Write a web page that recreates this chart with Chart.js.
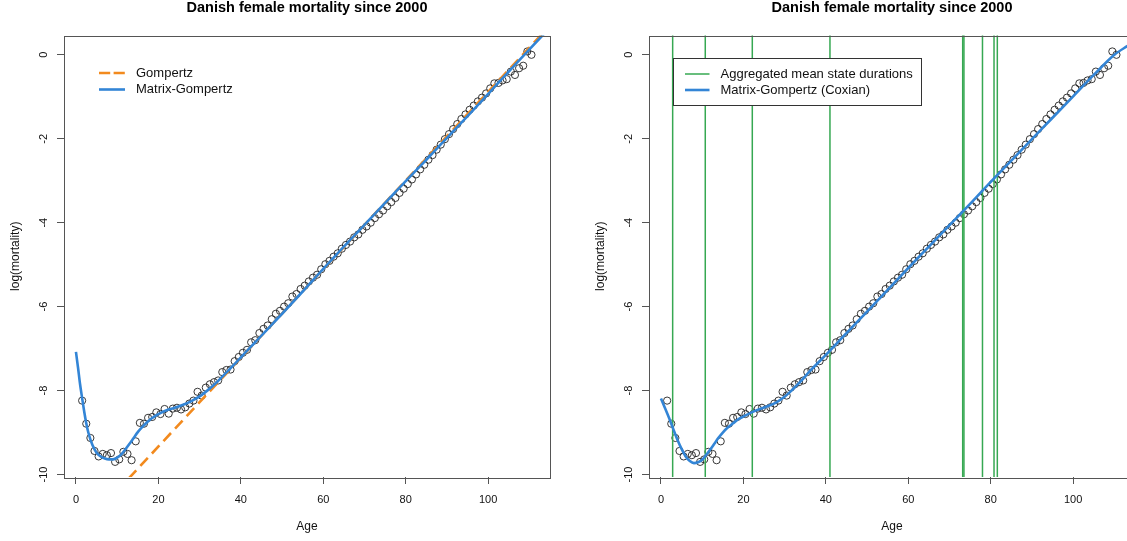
<!DOCTYPE html>
<html>
<head>
<meta charset="utf-8">
<script src="https://cdn.jsdelivr.net/npm/chart.js@4/dist/chart.umd.min.js"></script>
<style>
    html, body { margin: 0; padding: 0; background: #fff; overflow: hidden; width: 1127px; height: 541px; }
    .panel { position: absolute; top: 0; height: 541px; }
    #leftPanel { left: 0; width: 563px; }
    #rightPanel { left: 563px; width: 585px; }
</style>
</head>
<body>
<div class="panel" id="leftPanel"><canvas id="gompertzChart"></canvas></div>
<div class="panel" id="rightPanel"><canvas id="coxianChart"></canvas></div>
<script>
// Observed log-mortality, ages plotted at mid-year
const obsAges = [
    1.5, 2.5, 3.5, 4.5, 5.5, 6.5, 7.5, 8.5, 9.5, 10.5,
    11.5, 12.5, 13.5, 14.5, 15.5, 16.5, 17.5, 18.5, 19.5, 20.5,
    21.5, 22.5, 23.5, 24.5, 25.5, 26.5, 27.5, 28.5, 29.5, 30.5,
    31.5, 32.5, 33.5, 34.5, 35.5, 36.5, 37.5, 38.5, 39.5, 40.5,
    41.5, 42.5, 43.5, 44.5, 45.5, 46.5, 47.5, 48.5, 49.5, 50.5,
    51.5, 52.5, 53.5, 54.5, 55.5, 56.5, 57.5, 58.5, 59.5, 60.5,
    61.5, 62.5, 63.5, 64.5, 65.5, 66.5, 67.5, 68.5, 69.5, 70.5,
    71.5, 72.5, 73.5, 74.5, 75.5, 76.5, 77.5, 78.5, 79.5, 80.5,
    81.5, 82.5, 83.5, 84.5, 85.5, 86.5, 87.5, 88.5, 89.5, 90.5,
    91.5, 92.5, 93.5, 94.5, 95.5, 96.5, 97.5, 98.5, 99.5, 100.5,
    101.5, 102.5, 103.5, 104.5, 105.5, 106.5, 107.5, 108.5, 109.5, 110.5
];
const obsLogMort = [
    -8.24, -8.79, -9.13, -9.44, -9.57, -9.51, -9.54, -9.49, -9.70, -9.64,
    -9.46, -9.51, -9.66, -9.21, -8.77, -8.79, -8.65, -8.63, -8.52, -8.56,
    -8.44, -8.55, -8.43, -8.41, -8.45, -8.40, -8.31, -8.24, -8.03, -8.12,
    -7.93, -7.85, -7.80, -7.76, -7.56, -7.51, -7.50, -7.30, -7.20, -7.10,
    -7.03, -6.85, -6.80, -6.63, -6.53, -6.45, -6.30, -6.17, -6.10, -6.00,
    -5.92, -5.76, -5.70, -5.58, -5.50, -5.40, -5.31, -5.24, -5.11, -4.99,
    -4.91, -4.81, -4.73, -4.62, -4.53, -4.45, -4.35, -4.28, -4.17, -4.09,
    -4.00, -3.89, -3.80, -3.71, -3.61, -3.51, -3.41, -3.29, -3.19, -3.08,
    -2.97, -2.85, -2.73, -2.62, -2.50, -2.39, -2.26, -2.14, -2.01, -1.89,
    -1.77, -1.65, -1.53, -1.42, -1.31, -1.21, -1.11, -1.02, -0.92, -0.80,
    -0.68, -0.67, -0.61, -0.58, -0.40, -0.48, -0.32, -0.26, 0.08, 0.00
];

// Fitted Gompertz (straight in log scale)
const gompAges = [10, 115];
const gompLogMort = [-10.39, 0.70];

// Fitted Matrix-Gompertz (left panel)
const mgAges = [
    0, 0.5, 1, 1.5, 2, 2.5, 3, 4, 5, 6, 7, 8, 9, 10, 11, 12, 13, 14, 15, 16,
    17, 18, 19, 20, 22, 24, 26, 28, 30, 32, 34, 36, 38, 40, 45, 50, 55, 60,
    65, 70, 75, 80, 85, 90, 95, 100, 105, 110, 115
];
const mgLogMort = [
    -7.08, -7.45, -7.85, -8.18, -8.50, -8.78, -9.00, -9.30, -9.48, -9.57,
    -9.62, -9.64, -9.64, -9.60, -9.52, -9.40, -9.27, -9.13, -8.99, -8.88,
    -8.78, -8.69, -8.62, -8.56, -8.47, -8.41, -8.34, -8.25, -8.14, -7.99,
    -7.82, -7.62, -7.42, -7.21, -6.69, -6.17, -5.64, -5.10, -4.57, -4.05,
    -3.53, -3.01, -2.50, -1.98, -1.46, -0.93, -0.40, 0.13, 0.65
];

// Fitted Matrix-Gompertz, Coxian structure (right panel)
const coxAges = [
    0, 1, 2, 3, 4, 5, 6, 7, 8, 9, 10, 11, 12, 13, 14, 15, 16, 17, 18, 19,
    20, 22, 24, 26, 28, 30, 32, 34, 36, 38, 40, 45, 50, 55, 60, 65, 70, 75,
    80, 85, 90, 95, 100, 105, 110, 113, 115
];
const coxLogMort = [
    -8.19, -8.42, -8.66, -8.92, -9.17, -9.39, -9.57, -9.68, -9.73, -9.71,
    -9.65, -9.53, -9.40, -9.26, -9.12, -9.00, -8.90, -8.82, -8.74, -8.67,
    -8.62, -8.52, -8.44, -8.37, -8.28, -8.15, -7.97, -7.77, -7.55, -7.35,
    -7.15, -6.63, -6.12, -5.60, -5.08, -4.57, -4.06, -3.55, -3.03, -2.52,
    -2.01, -1.50, -0.99, -0.48, 0.00, 0.20, 0.32
];

// Aggregated mean state durations (cumulative ages)
const stateAges = [2.84, 10.75, 22.16, 41.0, 73.2, 73.5, 78.0, 80.8, 81.6];

const xTicks = [0, 20, 40, 60, 80, 100];
const yTicks = [-10, -8, -6, -4, -2, 0];
const X_MIN = -2.9, X_MAX = 115;
const Y_MIN = -10.06, Y_MAX = 0.46;

const BLUE = '#3385d6';
const ORANGE = '#f28a1e';
const GREEN = '#36a852';
const AXIS_GREY = '#555';

Chart.defaults.font.family = '"Liberation Sans", Arial, Helvetica, sans-serif';
Chart.defaults.color = '#111';

const toPoints = (xs, ys) => xs.map((x, i) => ({ x: x, y: ys[i] }));

// R-style box around the plotting region
const boxPlugin = {
    id: 'rBox',
    afterDraw(chart) {
        const { ctx, chartArea: a } = chart;
        ctx.save();
        ctx.strokeStyle = AXIS_GREY;
        ctx.lineWidth = 1;
        ctx.strokeRect(Math.round(a.left) + 0.5, Math.round(a.top) + 0.5,
            Math.round(a.right - a.left), Math.round(a.bottom - a.top));
        ctx.restore();
    }
};

// Legend drawn inside the plot, like R's legend()
const legendPlugin = {
    id: 'rLegend',
    afterDraw(chart, args, opts) {
        if (!opts || !opts.items) return;
        const ctx = chart.ctx;
        ctx.save();
        if (opts.box) {
            ctx.fillStyle = '#fff';
            ctx.fillRect(opts.box.x, opts.box.y, opts.box.w, opts.box.h);
            ctx.strokeStyle = '#333';
            ctx.lineWidth = 1;
            ctx.strokeRect(opts.box.x + 0.5, opts.box.y + 0.5, opts.box.w, opts.box.h);
        }
        ctx.font = '13px ' + Chart.defaults.font.family;
        ctx.textBaseline = 'middle';
        opts.items.forEach((item, i) => {
            const y = opts.y + i * opts.rowHeight;
            ctx.beginPath();
            ctx.setLineDash(item.dash || []);
            ctx.strokeStyle = item.color;
            ctx.lineWidth = item.width;
            ctx.moveTo(opts.x, y);
            ctx.lineTo(opts.x + opts.lineLen, y);
            ctx.stroke();
            ctx.setLineDash([]);
            ctx.fillStyle = '#111';
            ctx.fillText(item.text, opts.x + opts.textGap, y);
        });
        ctx.restore();
    }
};

function axisOptions() {
    return {
        x: {
            type: 'linear',
            min: X_MIN,
            max: X_MAX,
            afterBuildTicks: scale => { scale.ticks = xTicks.map(v => ({ value: v })); },
            ticks: { maxRotation: 0, padding: 9, font: { size: 11 } },
            grid: { drawOnChartArea: false, tickLength: 7, color: AXIS_GREY },
            border: { display: false },
            title: { display: true, text: 'Age', font: { size: 12 }, padding: { top: 0, bottom: 7 } },
            afterFit: scale => { scale.height = 64; }
        },
        y: {
            type: 'linear',
            min: Y_MIN,
            max: Y_MAX,
            afterBuildTicks: scale => { scale.ticks = yTicks.map(v => ({ value: v })); },
            ticks: { minRotation: 90, maxRotation: 90, crossAlign: 'center', padding: 5, font: { size: 11 } },
            grid: { drawOnChartArea: false, tickLength: 7, color: AXIS_GREY },
            border: { display: false },
            title: { display: true, text: 'log(mortality)', font: { size: 12 }, padding: { top: 8, bottom: 0 } },
            afterFit: scale => { scale.width = 64; }
        }
    };
}

function baseOptions(padLeft, legend) {
    return {
        responsive: true,
        maintainAspectRatio: false,
        animation: false,
        layout: { padding: { left: padLeft, right: 13, top: 0, bottom: 0 } },
        plugins: {
            legend: { display: false },
            tooltip: { enabled: false },
            title: {
                display: true,
                text: 'Danish female mortality since 2000',
                fullSize: false,
                color: '#000',
                font: { size: 14.5, weight: 'bold', lineHeight: 1 },
                padding: { top: 1, bottom: 20 }
            },
            rLegend: legend
        },
        scales: axisOptions()
    };
}

function observedDataset() {
    return {
        type: 'scatter',
        data: toPoints(obsAges, obsLogMort),
        pointStyle: 'circle',
        pointRadius: 3.6,
        pointBorderWidth: 0.9,
        pointBorderColor: '#222',
        pointBackgroundColor: 'rgba(0,0,0,0)',
        order: 3
    };
}

function curveDataset(xs, ys, color, extra) {
    return Object.assign({
        type: 'line',
        data: toPoints(xs, ys),
        borderColor: color,
        borderWidth: 2.6,
        pointRadius: 0,
        cubicInterpolationMode: 'monotone',
        fill: false
    }, extra);
}

new Chart(document.getElementById('gompertzChart'), {
    type: 'scatter',
    data: {
        datasets: [
            curveDataset(mgAges, mgLogMort, BLUE, { order: 0 }),
            curveDataset(gompAges, gompLogMort, ORANGE, { order: 1, borderDash: [11, 6] }),
            observedDataset()
        ]
    },
    options: baseOptions(0, {
        x: 99, y: 73, rowHeight: 16.5, lineLen: 26, textGap: 37,
        items: [
            { text: 'Gompertz', color: ORANGE, width: 2.6, dash: [11.2, 3.4] },
            { text: 'Matrix-Gompertz', color: BLUE, width: 2.6 }
        ]
    }),
    plugins: [boxPlugin, legendPlugin]
});

const stateLines = stateAges.map(a => ({
    type: 'line',
    data: toPoints([a, a], [Y_MIN - 1, Y_MAX + 1]),
    borderColor: GREEN,
    borderWidth: 1.5,
    pointRadius: 0,
    order: 1
}));

new Chart(document.getElementById('coxianChart'), {
    type: 'scatter',
    data: {
        datasets: [
            curveDataset(coxAges, coxLogMort, BLUE, { order: 0 }),
            ...stateLines,
            observedDataset()
        ]
    },
    options: baseOptions(22, {
        x: 122, y: 74, rowHeight: 16, lineLen: 24.5, textGap: 35.5,
        box: { x: 110, y: 58, w: 248, h: 47 },
        items: [
            { text: 'Aggregated mean state durations', color: GREEN, width: 1.5 },
            { text: 'Matrix-Gompertz (Coxian)', color: BLUE, width: 2.6 }
        ]
    }),
    plugins: [boxPlugin, legendPlugin]
});
</script>
</body>
</html>
